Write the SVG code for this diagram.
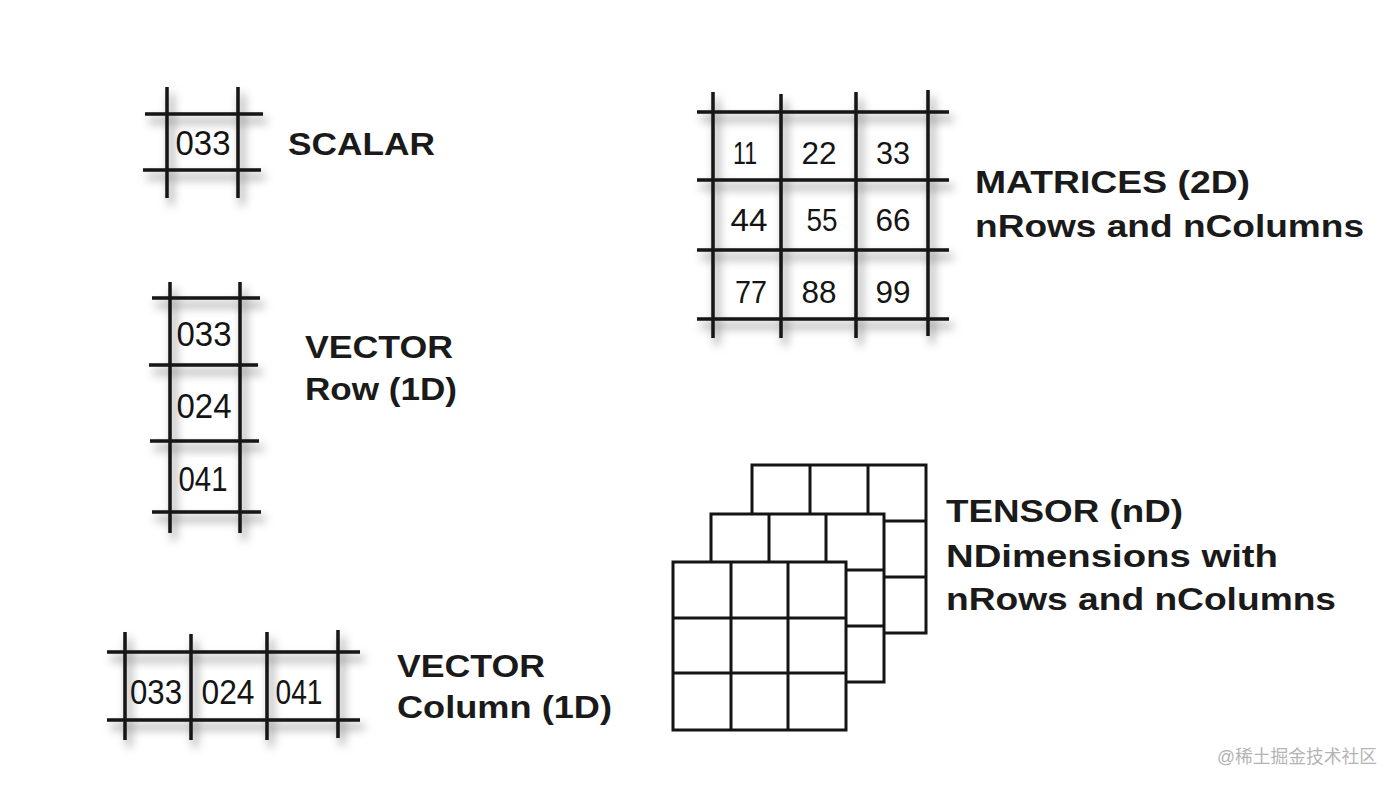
<svg xmlns="http://www.w3.org/2000/svg" width="1400" height="787" viewBox="0 0 1400 787">
<defs>
<filter id="sh" x="-20%" y="-20%" width="140%" height="140%">
<feDropShadow dx="4" dy="7" stdDeviation="5" flood-color="#000" flood-opacity="0.5"/>
</filter>
<style>
.g line{stroke:#141414;stroke-width:3.5;stroke-linecap:butt}
.num{font-family:"Liberation Sans",Arial,sans-serif;font-size:35px;fill:#141414;text-anchor:middle}
.mnum{font-family:"Liberation Sans",Arial,sans-serif;font-size:31px;fill:#141414;text-anchor:middle}
.lbl{font-family:"Liberation Sans",Arial,sans-serif;font-size:32px;font-weight:bold;fill:#1a1a1a}
.t rect,.t line{stroke:#141414;stroke-width:3;fill:none}
.t rect.bg{fill:#fff}
</style>
</defs>
<rect width="1400" height="787" fill="#fff"/>

<g id="scalar">
<g class="g" filter="url(#sh)">
<line x1="167" y1="87" x2="167" y2="198"/>
<line x1="238" y1="87" x2="238" y2="198"/>
<line x1="145" y1="114" x2="263" y2="114"/>
<line x1="143" y1="170" x2="261" y2="170"/>
</g>
<text class="num" x="203" y="155" textLength="55" lengthAdjust="spacingAndGlyphs">033</text>
<text class="lbl" x="288" y="155" textLength="147" lengthAdjust="spacingAndGlyphs">SCALAR</text>
</g>

<g id="vector-row">
<g class="g" filter="url(#sh)">
<line x1="170" y1="282" x2="170" y2="533"/>
<line x1="240" y1="282" x2="240" y2="533"/>
<line x1="152" y1="298" x2="260" y2="298"/>
<line x1="149" y1="365" x2="258" y2="365"/>
<line x1="150" y1="441" x2="259" y2="441"/>
<line x1="152" y1="512" x2="261" y2="512"/>
</g>
<text class="num" x="204" y="346" textLength="55" lengthAdjust="spacingAndGlyphs">033</text>
<text class="num" x="204" y="418" textLength="55" lengthAdjust="spacingAndGlyphs">024</text>
<text class="num" x="203" y="491" textLength="49" lengthAdjust="spacingAndGlyphs">041</text>
<text class="lbl" x="305" y="358" textLength="148" lengthAdjust="spacingAndGlyphs">VECTOR</text>
<text class="lbl" x="305" y="400" textLength="152" lengthAdjust="spacingAndGlyphs">Row (1D)</text>
</g>

<g id="vector-column">
<g class="g" filter="url(#sh)">
<line x1="125" y1="632" x2="125" y2="740"/>
<line x1="191" y1="634" x2="191" y2="740"/>
<line x1="267" y1="632" x2="267" y2="740"/>
<line x1="338" y1="630" x2="338" y2="738"/>
<line x1="107" y1="652" x2="360" y2="652"/>
<line x1="107" y1="720" x2="360" y2="720"/>
</g>
<text class="num" x="156" y="704" textLength="52" lengthAdjust="spacingAndGlyphs">033</text>
<text class="num" x="228" y="704" textLength="53" lengthAdjust="spacingAndGlyphs">024</text>
<text class="num" x="299" y="704" textLength="47" lengthAdjust="spacingAndGlyphs">041</text>
<text class="lbl" x="397" y="677" textLength="148" lengthAdjust="spacingAndGlyphs">VECTOR</text>
<text class="lbl" x="397" y="718" textLength="215" lengthAdjust="spacingAndGlyphs">Column (1D)</text>
</g>

<g id="matrices">
<g class="g" filter="url(#sh)">
<line x1="713" y1="92" x2="713" y2="338"/>
<line x1="781" y1="94" x2="781" y2="338"/>
<line x1="856" y1="92" x2="856" y2="338"/>
<line x1="928" y1="90" x2="928" y2="336"/>
<line x1="697" y1="112" x2="949" y2="112"/>
<line x1="697" y1="180" x2="949" y2="180"/>
<line x1="697" y1="250" x2="949" y2="250"/>
<line x1="697" y1="319" x2="949" y2="319"/>
</g>
<text class="mnum" x="745" y="164" textLength="24" lengthAdjust="spacingAndGlyphs">11</text>
<text class="mnum" x="819" y="164" textLength="35" lengthAdjust="spacingAndGlyphs">22</text>
<text class="mnum" x="893" y="164" textLength="34" lengthAdjust="spacingAndGlyphs">33</text>
<text class="mnum" x="749" y="231" textLength="37" lengthAdjust="spacingAndGlyphs">44</text>
<text class="mnum" x="822" y="231" textLength="31" lengthAdjust="spacingAndGlyphs">55</text>
<text class="mnum" x="893" y="231" textLength="35" lengthAdjust="spacingAndGlyphs">66</text>
<text class="mnum" x="751" y="303" textLength="32" lengthAdjust="spacingAndGlyphs">77</text>
<text class="mnum" x="819" y="303" textLength="35" lengthAdjust="spacingAndGlyphs">88</text>
<text class="mnum" x="893" y="303" textLength="35" lengthAdjust="spacingAndGlyphs">99</text>
<text class="lbl" x="975" y="193" textLength="275" lengthAdjust="spacingAndGlyphs">MATRICES (2D)</text>
<text class="lbl" x="975" y="237" textLength="389" lengthAdjust="spacingAndGlyphs">nRows and nColumns</text>
</g>

<g id="tensor">
<g class="t">
<rect class="bg" x="752" y="465" width="174" height="168"/>
<line x1="810" y1="465" x2="810" y2="633"/>
<line x1="868" y1="465" x2="868" y2="633"/>
<line x1="752" y1="521" x2="926" y2="521"/>
<line x1="752" y1="577" x2="926" y2="577"/>
</g>
<g class="t">
<rect class="bg" x="711" y="514" width="173" height="168"/>
<line x1="769" y1="514" x2="769" y2="682"/>
<line x1="826" y1="514" x2="826" y2="682"/>
<line x1="711" y1="570" x2="884" y2="570"/>
<line x1="711" y1="626" x2="884" y2="626"/>
</g>
<g class="t">
<rect class="bg" x="673" y="562" width="173" height="168"/>
<line x1="731" y1="562" x2="731" y2="730"/>
<line x1="788" y1="562" x2="788" y2="730"/>
<line x1="673" y1="618" x2="846" y2="618"/>
<line x1="673" y1="673" x2="846" y2="673"/>
</g>
<text class="lbl" x="946" y="522" textLength="237" lengthAdjust="spacingAndGlyphs">TENSOR (nD)</text>
<text class="lbl" x="946" y="567" textLength="332" lengthAdjust="spacingAndGlyphs">NDimensions with</text>
<text class="lbl" x="946" y="610" textLength="390" lengthAdjust="spacingAndGlyphs">nRows and nColumns</text>
</g>

<text x="1217" y="763" font-family="'Liberation Sans','Noto Sans CJK SC',sans-serif" font-size="18" fill="#b4b4b4" textLength="160" lengthAdjust="spacingAndGlyphs">@稀土掘金技术社区</text>
</svg>
